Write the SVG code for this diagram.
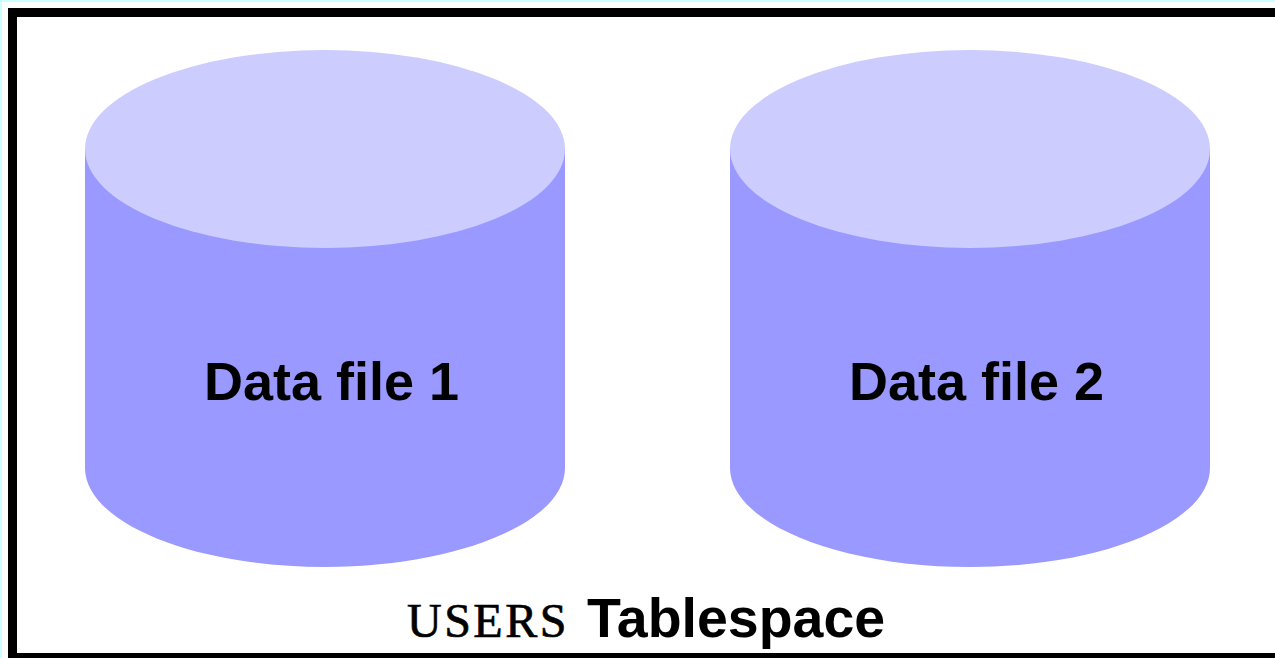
<svg xmlns="http://www.w3.org/2000/svg" width="1275" height="658" viewBox="0 0 1275 658">
<style>
.body{fill:#9999ff}
.top{fill:#ccccff}
.lbl{font-family:"Liberation Sans",Arial,sans-serif;font-weight:bold;font-size:54px;fill:#000}
.cap{font-size:55.5px}
.mono{font-family:"Liberation Serif","Courier New",serif;font-weight:normal;font-size:48px;letter-spacing:2.5px;fill:#000;stroke:#000;stroke-width:.7px}
</style>
<rect width="1275" height="658" fill="#ccffff"/>
<rect x="2" y="2" width="1273" height="656" fill="#ffffff"/>
<rect id="frame" x="12.5" y="12.5" width="1280" height="645" fill="#ffffff" stroke="#000" stroke-width="9"/>
<g id="datafile1">
<path class="body" d="M85 149V468C85 522 192 567 325 567S565 522 565 468V149Z"/>
<ellipse class="top" cx="325" cy="149" rx="240" ry="99"/>
<text class="lbl" x="204" y="400">Data file 1</text>
</g>
<g id="datafile2">
<path class="body" d="M730 149V468C730 522 837 567 970 567S1210 522 1210 468V149Z"/>
<ellipse class="top" cx="970" cy="149" rx="240" ry="99"/>
<text class="lbl" x="849" y="400">Data file 2</text>
</g>
<g id="connectors"/>
<text class="mono" x="407" y="637">USERS</text>
<text class="lbl cap" x="587" y="637">Tablespace</text>
</svg>
